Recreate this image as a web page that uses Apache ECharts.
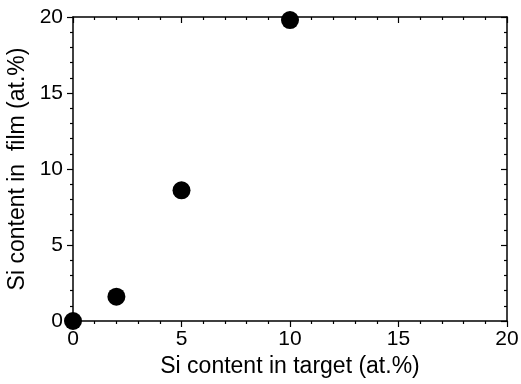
<!DOCTYPE html>
<html>
<head>
<meta charset="utf-8">
<script src="https://cdn.jsdelivr.net/npm/echarts@6/dist/echarts.min.js"></script>
<style>
  html, body { margin: 0; padding: 0; background: #fff; }
  #chart { width: 521px; height: 384px; }
</style>
</head>
<body>
<div id="chart"></div>
<script>
// Si 靶材含量 vs 薄膜中 Si 含量
const targetSi = [0, 2, 5, 10];
const filmSi = [0, 1.6, 8.6, 19.8];
const xTicks = [0, 5, 10, 15, 20];
const yTicks = [0, 5, 10, 15, 20];

const font = 'Liberation Sans, Arial, sans-serif';
const lineStyle = { color: '#000', width: 1.5 };
const tickStyle = { color: '#000', width: 1.2 };

const baseAxis = {
  type: 'value',
  min: 0,
  max: 20,
  interval: 5,
  z: 0,
  axisLine: { show: true, onZero: false, lineStyle },
  splitLine: { show: false },
  minorSplitLine: { show: false },
  minorTick: { show: true, splitNumber: 5, length: 3, lineStyle: tickStyle }
};

const chart = echarts.init(document.getElementById('chart'));
chart.setOption({
  animation: false,
  grid: { left: 73, right: 14, top: 17, bottom: 63, containLabel: false, outerBoundsMode: 'none' },
  xAxis: [
    Object.assign({}, baseAxis, {
      position: 'bottom',
      name: 'Si content in target (at.%)',
      nameLocation: 'middle',
      nameGap: 33,
      nameTextStyle: { fontFamily: font, fontSize: 23, color: '#000' },
      axisTick: { show: true, inside: false, length: 6, lineStyle: tickStyle },
      axisLabel: {
        fontFamily: font, fontSize: 21, color: '#000', margin: 8,
        formatter: v => xTicks.includes(v) ? String(v) : ''
      }
    }),
    Object.assign({}, baseAxis, {
      position: 'top',
      axisTick: { show: true, inside: true, length: 6, lineStyle: tickStyle },
      axisLabel: { show: false }
    })
  ],
  yAxis: [
    Object.assign({}, baseAxis, {
      position: 'left',
      name: 'Si content in  film (at.%)',
      nameLocation: 'middle',
      nameGap: 43,
      nameTextStyle: { fontFamily: font, fontSize: 23, color: '#000' },
      axisTick: { show: true, inside: false, length: 6, lineStyle: tickStyle },
      axisLabel: {
        fontFamily: font, fontSize: 21, color: '#000', margin: 10,
        formatter: v => yTicks.includes(v) ? String(v) : ''
      }
    }),
    Object.assign({}, baseAxis, {
      position: 'right',
      axisTick: { show: true, inside: true, length: 6, lineStyle: tickStyle },
      axisLabel: { show: false }
    })
  ],
  series: [{
    type: 'scatter',
    xAxisIndex: 0,
    yAxisIndex: 0,
    z: 10,
    symbol: 'circle',
    symbolSize: 18,
    itemStyle: { color: '#000', opacity: 1 },
    data: targetSi.map((x, i) => [x, filmSi[i]]),
    clip: false
  }]
});
</script>
</body>
</html>
